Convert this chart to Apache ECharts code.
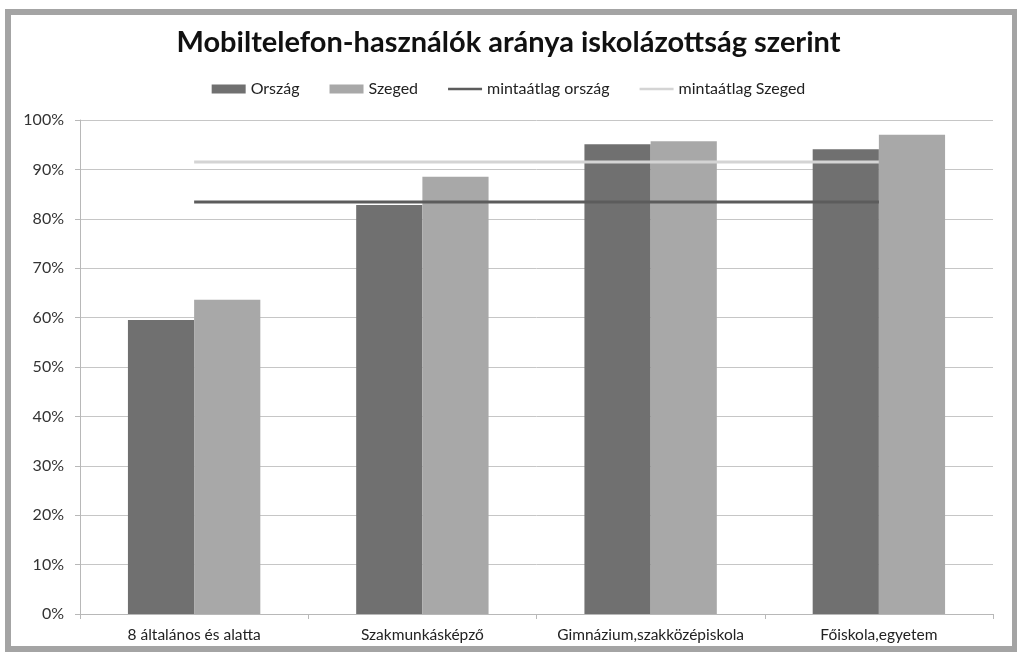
<!DOCTYPE html>
<html>
<head>
<meta charset="utf-8">
<script src="https://cdn.jsdelivr.net/npm/echarts@6/dist/echarts.min.js"></script>
<style>
html,body{margin:0;padding:0;background:#fff;}
#frame{position:absolute;left:5px;top:9px;width:1012px;height:643px;box-sizing:border-box;border:6px solid #a4a4a4;border-right-width:5px;}
#chart{position:absolute;left:0;top:0;width:1017px;height:655px;}
</style>
</head>
<body>
<div id="frame"></div>
<div id="chart"></div>
<script>
const categories = ['8 általános és alatta', 'Szakmunkásképző', 'Gimnázium,szakközépiskola', 'Főiskola,egyetem'];
const orszag = [59.5, 82.8, 95.1, 94.1];
const szeged = [63.6, 88.5, 95.7, 97.0];
const atlagOrszag = [83.4, 83.4, 83.4, 83.4];
const atlagSzeged = [91.5, 91.5, 91.5, 91.5];
const yTicks = [0, 10, 20, 30, 40, 50, 60, 70, 80, 90, 100];

const chart = echarts.init(document.getElementById('chart'));
const font = 'Lato, "Open Sans", sans-serif';
const lineIcon = 'path://M0,3H40V6H0Z M0,0H0.01V9H0Z';
chart.setOption({
  animation: false,
  backgroundColor: 'transparent',
  title: {
    text: 'Mobiltelefon-használók aránya iskolázottság szerint',
    left: 'center', top: 23,
    textStyle: {fontFamily: font, fontSize: 29, fontWeight: 'bold', color: '#111'}
  },
  legend: {
    top: 76, left: 'center', itemGap: 30, itemWidth: 34, itemHeight: 9,
    textStyle: {fontFamily: font, fontSize: 16, color: '#222'},
    data: [
      {name: 'Ország', icon: 'rect'},
      {name: 'Szeged', icon: 'rect'},
      {name: 'mintaátlag ország', icon: lineIcon},
      {name: 'mintaátlag Szeged', icon: lineIcon}
    ]
  },
  grid: {left: 80, right: 24, top: 120, bottom: 41, containLabel: false},
  xAxis: {
    type: 'category', data: categories,
    axisLine: {show: true, lineStyle: {color: '#b8b8b8', width: 1}},
    axisTick: {show: true, alignWithLabel: false, length: 5, lineStyle: {color: '#b8b8b8'}},
    axisLabel: {interval: 0, fontFamily: font, fontSize: 15.5, color: '#222', margin: 13}
  },
  yAxis: {
    type: 'value', min: yTicks[0], max: yTicks[yTicks.length - 1], interval: 10,
    axisLine: {show: true, lineStyle: {color: '#b8b8b8'}},
    axisTick: {show: true, length: 5, lineStyle: {color: '#b8b8b8'}},
    axisLabel: {formatter: '{value}%', fontFamily: font, fontSize: 16, color: '#333', margin: 16},
    splitLine: {show: true, lineStyle: {color: '#c6c6c6', width: 1}}
  },
  series: [
    {name: 'Ország', type: 'bar', data: orszag, barGap: '0%', barCategoryGap: '42%',
     itemStyle: {color: '#707070'}, z: 2},
    {name: 'Szeged', type: 'bar', data: szeged,
     itemStyle: {color: '#a8a8a8'}, z: 2},
    {name: 'mintaátlag ország', type: 'line', data: atlagOrszag, symbol: 'none',
     lineStyle: {color: '#5c5c5c', width: 3}, itemStyle: {color: '#5c5c5c'}, z: 5},
    {name: 'mintaátlag Szeged', type: 'line', data: atlagSzeged, symbol: 'none',
     lineStyle: {color: '#d4d4d4', width: 3}, itemStyle: {color: '#d4d4d4'}, z: 5}
  ]
});
</script>
</body>
</html>
